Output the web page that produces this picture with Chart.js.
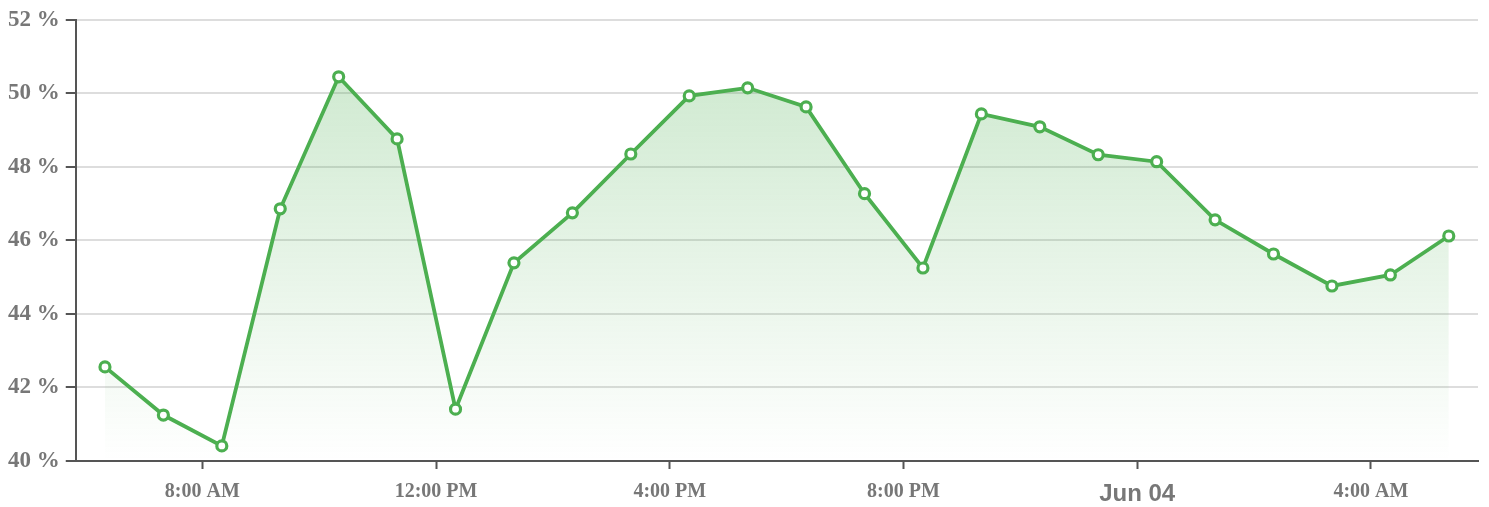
<!DOCTYPE html>
<html>
<head>
<meta charset="utf-8">
<script src="https://cdn.jsdelivr.net/npm/chart.js@4/dist/chart.umd.min.js"></script>
<style>
  html, body { margin: 0; padding: 0; background: #fff; }
  #wrap { width: 1489px; height: 507px; }
</style>
</head>
<body>
<div id="wrap"><canvas id="rateChart"></canvas></div>
<script>
// hourly readings, Jun 03 06:20 through Jun 04 05:20
const times = ['06:20', '07:20', '08:20', '09:20', '10:20', '11:20', '12:20', '13:20',
    '14:20', '15:20', '16:20', '17:20', '18:20', '19:20', '20:20', '21:20',
    '22:20', '23:20', '00:20', '01:20', '02:20', '03:20', '04:20', '05:20'];
const values = [42.56, 41.25, 40.41, 46.86, 50.45, 48.76, 41.41, 45.39,
    46.75, 48.35, 49.93, 50.15, 49.63, 47.27, 45.25, 49.44,
    49.09, 48.33, 48.14, 46.56, 45.63, 44.76, 45.06, 46.12];
const tickHours = [8, 12, 16, 20, 24, 28];
const tickLabels = ['8:00 AM', '12:00 PM', '4:00 PM', '8:00 PM', 'Jun 04', '4:00 AM'];

// hours since midnight Jun 03, rolling over past midnight
let dayOffset = 0, prev = -1;
const hours = times.map(t => {
    const [h, m] = t.split(':').map(Number);
    if (h < prev) dayOffset += 24;
    prev = h;
    return dayOffset + h + m / 60;
});
const points = hours.map((h, i) => ({ x: h, y: values[i] }));

const green = 'rgb(76, 175, 80)';
const serifFont = { family: '"Liberation Serif", "Times New Roman", serif', size: 20, weight: 'bold' };
const dateFont = { family: '"Liberation Sans", Arial, sans-serif', size: 24, weight: 'bold' };

const ctx = document.getElementById('rateChart').getContext('2d');
new Chart(ctx, {
    type: 'line',
    data: {
        datasets: [{
            data: points,
            borderColor: green,
            borderWidth: 3.8,
            tension: 0,
            fill: 'start',
            backgroundColor: function(context) {
                const area = context.chart.chartArea;
                if (!area) return 'rgba(76, 175, 80, 0.2)';
                const g = context.chart.ctx.createLinearGradient(0, area.top, 0, area.bottom);
                g.addColorStop(0, 'rgba(76, 175, 80, 0.3)');
                g.addColorStop(1, 'rgba(76, 175, 80, 0)');
                return g;
            },
            pointRadius: 5,
            pointBorderWidth: 3.2,
            pointBackgroundColor: '#fff',
            pointBorderColor: green
        }]
    },
    options: {
        responsive: true,
        maintainAspectRatio: false,
        animation: false,
        layout: { padding: { top: 9, right: 11, left: 2, bottom: 1 } },
        plugins: { legend: { display: false }, tooltip: { enabled: false } },
        scales: {
            x: {
                type: 'linear',
                min: hours[0] - 0.5,
                max: hours[hours.length - 1] + 0.5,
                afterBuildTicks: scale => {
                    scale.ticks = tickHours.map(v => ({ value: v }));
                },
                afterFit: scale => { scale.height = 45; },
                border: { color: '#555', width: 2 },
                grid: { drawOnChartArea: false, tickLength: 8, tickColor: '#555', tickWidth: 2 },
                ticks: {
                    color: '#777',
                    padding: 11,
                    maxRotation: 0,
                    autoSkip: false,
                    font: c => (c.tick && c.tick.value === 24) ? dateFont : serifFont,
                    callback: v => tickLabels[tickHours.indexOf(v)]
                }
            },
            y: {
                min: 40,
                max: 52,
                border: { color: '#555', width: 2 },
                grid: { color: '#ddd', lineWidth: 2, tickLength: 10, tickColor: '#555', tickWidth: 2 },
                ticks: {
                    stepSize: 2,
                    color: '#777',
                    padding: 6,
                    font: { family: serifFont.family, size: 23, weight: 'bold' },
                    callback: v => v + ' %'
                }
            }
        }
    }
});
</script>
</body>
</html>
